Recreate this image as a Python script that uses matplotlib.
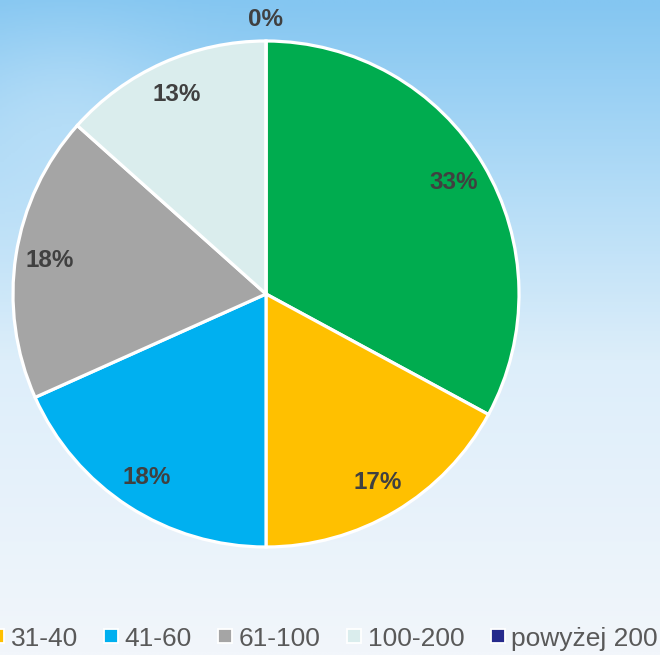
import numpy as np
import matplotlib
matplotlib.use('Agg')
from matplotlib import pyplot as plt
from matplotlib.lines import Line2D
from matplotlib.colors import LinearSegmentedColormap

# data (shares in percent, clockwise from 12 o'clock)
categories = ['do 30', '31-40', '41-60', '61-100', '100-200', 'powyżej 200']
shares = [32.9, 17.1, 18.3, 18.3, 13.4, 0.0]
pct_labels = ['33%', '17%', '18%', '18%', '13%', '0%']
colors = ['#00AC4F', '#FFC000', '#00B0F0', '#A5A5A5', '#DAEDED', '#262A8C']

plt.rcParams['font.family'] = ['Liberation Sans', 'DejaVu Sans']

fig = plt.figure(figsize=(6.6, 6.55), dpi=100)

# sky-like background
bg = fig.add_axes([0, 0, 1, 1])
sky = LinearSegmentedColormap.from_list(
    'sky', [(0, '#84C6F1'), (0.3, '#B5DDF7'), (0.55, '#DDEEFA'), (1, '#F2F6FB')])
yy = np.linspace(0, 1, 300)[:, None]
xx = np.linspace(0, 1, 300)[None, :]
grad = yy + 0.12 * np.exp(-((xx - 0.1) ** 2 / 0.03 + (yy - 0.15) ** 2 / 0.02))
bg.imshow(np.clip(grad, 0, 1), cmap=sky, aspect='auto', extent=[0, 1, 0, 1],
          origin='upper', vmin=0, vmax=1)
bg.axis('off')

# pie
ax = fig.add_axes([13 / 660, 108 / 655, 506 / 660, 506 / 655])
wedges, _ = ax.pie(shares, colors=colors, startangle=90, counterclock=False,
                   radius=1, wedgeprops=dict(edgecolor='white', linewidth=2.3))
ax.set_xlim(-1, 1)
ax.set_ylim(-1, 1)
ax.axis('off')

for w, lab, val in zip(wedges, pct_labels, shares):
    ang = np.deg2rad((w.theta1 + w.theta2) / 2)
    r = 0.865 if val > 0 else 1.085
    ax.text(r * np.cos(ang), r * np.sin(ang), lab, ha='center', va='center',
            fontsize=17.5, fontweight='bold', color='#404040', clip_on=False)

handles = [Line2D([], [], marker='s', linestyle='none', markersize=9.5,
                  markerfacecolor=c, markeredgecolor='white', markeredgewidth=1.3)
           for c in colors]
fig.legend(handles, categories, loc='center right', bbox_to_anchor=(0.997, 0.025),
           ncol=6, frameon=False, fontsize=19, labelcolor='#595959',
           handlelength=0.55, handletextpad=0.25, columnspacing=0.98,
           borderpad=0, borderaxespad=0)

fig.savefig('out.png', dpi=100)
